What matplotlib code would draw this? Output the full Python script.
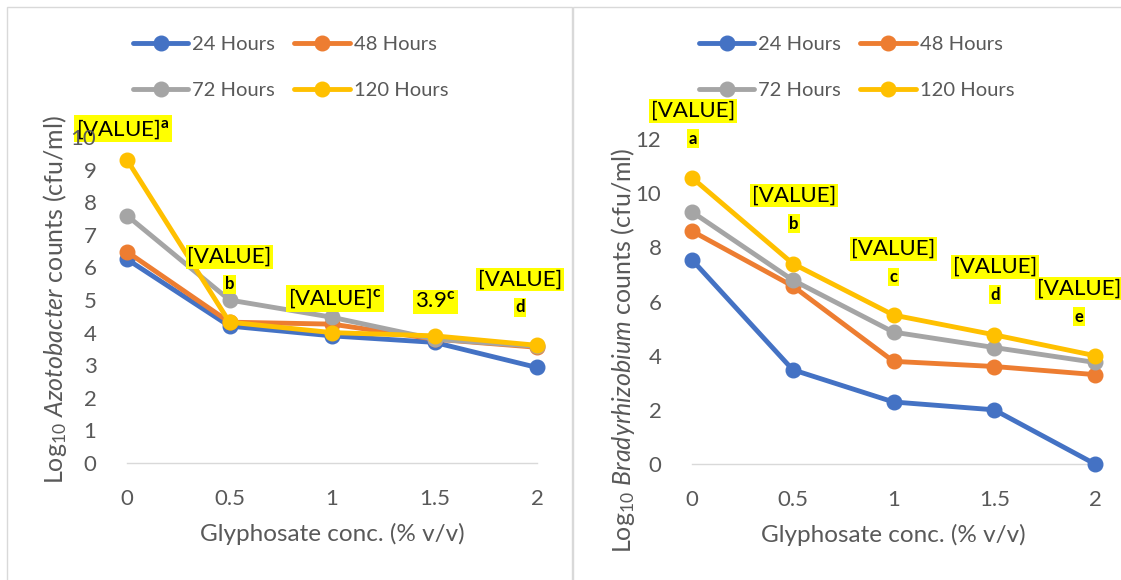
import matplotlib
matplotlib.use("Agg")
import matplotlib.pyplot as plt
from matplotlib.patches import Rectangle

plt.rcParams['font.family'] = ['Lato', 'DejaVu Sans']
plt.rcParams['mathtext.fontset'] = 'custom'
plt.rcParams['mathtext.rm'] = 'Lato'
plt.rcParams['mathtext.it'] = 'Lato:italic'
plt.rcParams['mathtext.bf'] = 'Lato:bold'

# ---------------- data ----------------
conc = [0, 0.5, 1, 1.5, 2]
series_names = ["24 Hours", "48 Hours", "72 Hours", "120 Hours"]

azo_24 = [6.25, 4.2, 3.9, 3.7, 2.93]
azo_48 = [6.48, 4.32, 4.26, 3.8, 3.55]
azo_72 = [7.59, 5.0, 4.47, 3.8, 3.58]
azo_120 = [9.3, 4.32, 4.0, 3.9, 3.61]

bra_24 = [7.54, 3.48, 2.29, 2.0, 0.0]
bra_48 = [8.6, 6.57, 3.79, 3.6, 3.3]
bra_72 = [9.31, 6.79, 4.87, 4.3, 3.75]
bra_120 = [10.57, 7.4, 5.5, 4.77, 4.0]

azo_labels = ["[VALUE]", "[VALUE]", "[VALUE]", "3.9", "[VALUE]"]
azo_letters = ["a", "b", "c", "c", "d"]
azo_letter_sup = [True, False, True, True, False]

bra_labels = ["[VALUE]", "[VALUE]", "[VALUE]", "[VALUE]", "[VALUE]"]
bra_letters = ["a", "b", "c", "d", "e"]
bra_letter_sup = [False, False, False, False, False]

azo_yticks = list(range(0, 11))
bra_yticks = list(range(0, 13, 2))

# ---------------- style ----------------
colors = ["#4472C4", "#ED7D31", "#A5A5A5", "#FFC000"]
txt_gray = "#595959"
grid_gray = "#D9D9D9"
W, H = 1121, 580

fig = plt.figure(figsize=(W / 100, H / 100), dpi=100)

# panel borders
fig.patches.append(Rectangle((7 / W, -0.01), (572 - 7) / W, 1 - 7 / H + 0.01,
                             transform=fig.transFigure, fill=False, ec=grid_gray, lw=1))
fig.patches.append(Rectangle((573 / W, -0.01), (W - 573 + 5) / W, 1 - 7 / H + 0.01,
                             transform=fig.transFigure, fill=False, ec=grid_gray, lw=1))

ax1 = fig.add_axes([127 / W, 1 - 463 / H, 410 / W, 326 / H])
ax2 = fig.add_axes([692 / W, 1 - 464 / H, 403 / W, 325 / H])


def setup(ax, ylim, yticks, ylabel, label_xy):
    ax.set_xlim(0, 2)
    ax.set_ylim(*ylim)
    ax.set_yticks(yticks)
    ax.set_xticks(conc)
    ax.set_xticklabels(["0", "0.5", "1", "1.5", "2"])
    for s in ["top", "right", "left"]:
        ax.spines[s].set_visible(False)
    ax.spines["bottom"].set_color(grid_gray)
    ax.spines["bottom"].set_linewidth(1)
    ax.tick_params(axis="both", length=0, labelsize=16, colors=txt_gray)
    ax.tick_params(axis="x", pad=19)
    ax.tick_params(axis="y", pad=22)
    ax.set_xlabel("Glyphosate conc. (% v/v)", fontsize=17.5, color=txt_gray, labelpad=10)
    ax.set_ylabel(ylabel, fontsize=18, color=txt_gray)
    ax.yaxis.set_label_coords(*label_xy)
    ax.set_facecolor("none")
    ax.yaxis.set_zorder(6)


def draw(ax, data):
    handles = []
    for vals, name, c in zip(data, series_names, colors):
        h, = ax.plot(conc, vals, color=c, lw=3.5, marker="o", ms=10.5,
                     label=name, clip_on=False, zorder=3, solid_capstyle="round")
        handles.append(h)
    return handles


def legend(ax, handles, x_px, y_px):
    order = [0, 2, 1, 3]
    ax.legend([handles[i] for i in order], [series_names[i] for i in order],
              ncol=2, loc="upper left",
              bbox_to_anchor=(x_px / W, 1 - y_px / H), bbox_transform=fig.transFigure,
              frameon=False, borderpad=0, borderaxespad=0, handlelength=2.75,
              handletextpad=0.2, columnspacing=0.95, labelspacing=1.45,
              fontsize=14.5, labelcolor=txt_gray)


def labels(ax, yvals, texts, letters, sup, offsets):
    box = dict(boxstyle="square,pad=0.08", fc="#FFFF00", ec="none")
    for x, y, t, l, s, off in zip(conc, yvals, texts, letters, sup, offsets):
        dx, dy_main, dy_letter = off
        if s:
            ax.annotate(t + r"$^{\mathbf{" + l + "}}$", xy=(x, y), xytext=(dx, dy_main),
                        textcoords="offset pixels", ha="center", va="center",
                        fontsize=16, color="black", bbox=box, zorder=5,
                        annotation_clip=False)
        else:
            ax.annotate(t, xy=(x, y), xytext=(dx, dy_main),
                        textcoords="offset pixels", ha="center", va="center",
                        fontsize=16, color="black", bbox=box, zorder=5,
                        annotation_clip=False)
            ax.annotate(l, xy=(x, y), xytext=(dx, dy_letter),
                        textcoords="offset pixels", ha="center", va="center",
                        fontsize=12, fontweight="bold", color="black", bbox=box,
                        zorder=5, annotation_clip=False)


setup(ax1, (0, 10), azo_yticks, r"Log$_{10}$ $\mathit{Azotobacter}$ counts (cfu/ml)",
      (-0.1415, 0.5))
setup(ax2, (0, 12), bra_yticks, r"Log$_{10}$ $\mathit{Bradyrhizobium}$ counts (cfu/ml)",
      (-0.1365, 0.35))

h1 = draw(ax1, [azo_24, azo_48, azo_72, azo_120])
h2 = draw(ax2, [bra_24, bra_48, bra_72, bra_120])

legend(ax1, h1, 133, 36)
legend(ax2, h2, 699, 36)

azo_off = [(-4, 31, 0), (0, 65, 38), (3, 34, 0), (1, 34, 0), (-17, 66, 38)]
bra_off = [(1, 67, 39), (1, 68, 40), (0, 66, 38), (1, 68, 40), (-16, 67, 39)]
labels(ax1, azo_120, azo_labels, azo_letters, azo_letter_sup, azo_off)
labels(ax2, bra_120, bra_labels, bra_letters, bra_letter_sup, bra_off)

fig.savefig("out.png", dpi=100, facecolor="white")
